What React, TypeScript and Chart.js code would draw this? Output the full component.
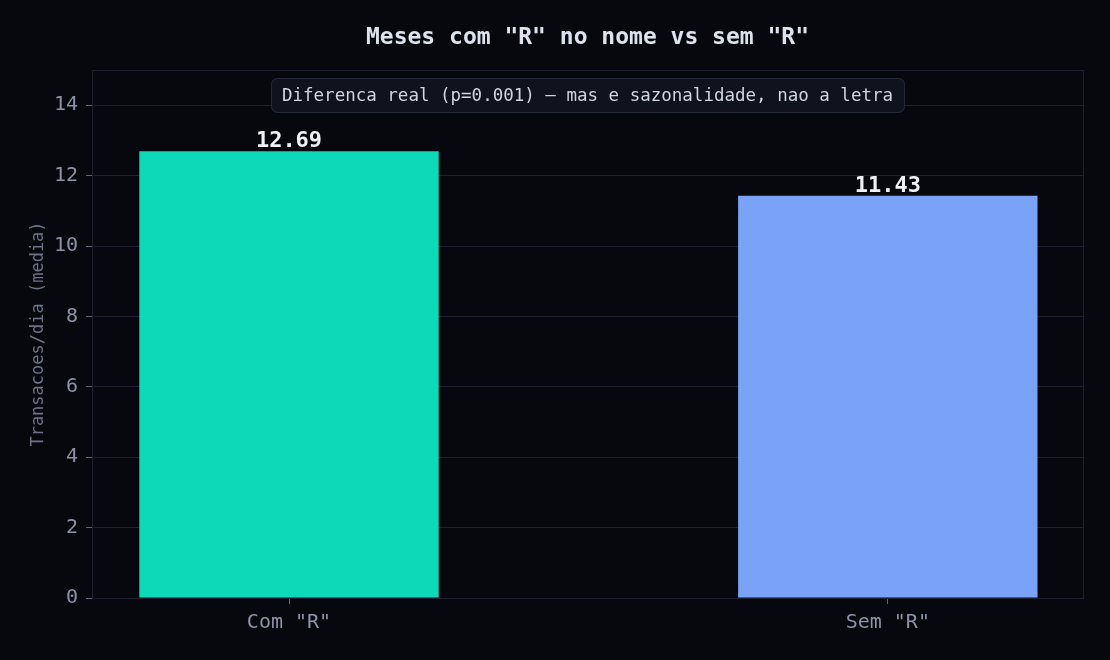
import React, { useEffect, useRef } from "react";
import { Chart, registerables } from "chart.js";

Chart.register(...registerables);

const TITLE = 'Meses com "R" no nome vs sem "R"';
const NOTE = "Diferenca real (p=0.001) — mas e sazonalidade, nao a letra";
const Y_TITLE = "Transacoes/dia (media)";
const categories = ['Com "R"', 'Sem "R"'];
const positions = [0, 1];
const values = [12.69, 11.43];
const barColors = ["#0dd9b9", "#7aa2f7"];
const yTickValues = [0, 2, 4, 6, 8, 10, 12, 14];

const FONT = "'DejaVu Sans Mono', 'Liberation Mono', monospace";
const BG = "#07080e";
const GRID = "#1c2030";
const TICK = "#8b93a8";

export default function App() {
  const ref = useRef<HTMLCanvasElement | null>(null);

  useEffect(() => {
    document.body.style.margin = "0";
    document.body.style.background = BG;
    const canvas = ref.current!;
    const decor = {
      id: "decor",
      beforeDraw(chart: any) {
        const { ctx, width, height } = chart;
        ctx.save();
        ctx.fillStyle = BG;
        ctx.fillRect(0, 0, width, height);
        ctx.restore();
      },
      afterDatasetsDraw(chart: any) {
        const { ctx, chartArea } = chart;
        const ca = chartArea;
        ctx.save();
        // frame
        ctx.strokeStyle = GRID;
        ctx.lineWidth = 1;
        ctx.strokeRect(ca.left + 0.5, ca.top + 0.5, ca.right - ca.left, ca.bottom - ca.top);
        // title
        const cx = (ca.left + ca.right) / 2;
        ctx.fillStyle = "#dde3ee";
        ctx.font = `bold 23px ${FONT}`;
        ctx.textAlign = "center";
        ctx.textBaseline = "middle";
        ctx.fillText(TITLE, cx, 38);
        // value labels
        const meta = chart.getDatasetMeta(0);
        ctx.font = `bold 22px ${FONT}`;
        ctx.fillStyle = "#eef1f7";
        ctx.textBaseline = "alphabetic";
        meta.data.forEach((bar: any, i: number) => {
          ctx.fillText(values[i].toFixed(2), bar.x, bar.y - 4);
        });
        // note box
        ctx.font = `17.5px ${FONT}`;
        const tw = ctx.measureText(NOTE).width;
        const bw = tw + 22;
        const bh = 34;
        const bx = cx - bw / 2;
        const by = 78;
        ctx.beginPath();
        ctx.roundRect(bx + 0.5, by + 0.5, bw, bh, 6);
        ctx.fillStyle = "#10131e";
        ctx.fill();
        ctx.strokeStyle = "#262b3b";
        ctx.lineWidth = 1;
        ctx.stroke();
        ctx.fillStyle = "#cfd5e1";
        ctx.textBaseline = "middle";
        ctx.textAlign = "center";
        ctx.fillText(NOTE, cx, by + bh / 2 + 1);
        ctx.restore();
      },
    };

    const chart = new Chart(canvas, {
      type: "bar",
      data: {
        datasets: [
          {
            data: positions.map((x, i) => ({ x, y: values[i] })),
            backgroundColor: barColors,
            borderWidth: 0,
            barPercentage: 0.5,
            categoryPercentage: 1.0,
          },
        ],
      },
      options: {
        animation: false,
        responsive: false,
        devicePixelRatio: 1,
        layout: { padding: { top: 70, right: 27, left: 0, bottom: 0 } },
        plugins: {
          legend: { display: false },
          tooltip: { enabled: false },
          title: { display: false },
        },
        scales: {
          x: {
            type: "linear",
            min: -0.329,
            max: 1.326,
            offset: false,
            afterBuildTicks(scale: any) {
              scale.ticks = positions.map((v) => ({ value: v }));
            },
            afterFit(scale: any) {
              scale.height = 62;
            },
            grid: {
              offset: false,
              drawOnChartArea: false,
              drawTicks: true,
              tickLength: 6,
              tickColor: "#5d6478",
              color: GRID,
            },
            border: { display: true, color: "#262b3b" },
            ticks: {
              color: TICK,
              font: { family: FONT, size: 20 },
              padding: 7,
              autoSkip: false,
              maxRotation: 0,
              callback: (v: any) => categories[Math.round(Number(v))] ?? "",
            },
          },
          y: {
            min: 0,
            max: 15,
            afterBuildTicks(scale: any) {
              scale.ticks = yTickValues.map((v) => ({ value: v }));
            },
            afterFit(scale: any) {
              scale.width = 92;
            },
            grid: {
              color: GRID,
              lineWidth: 1,
              drawTicks: true,
              tickLength: 6,
              tickColor: "#5d6478",
            },
            border: { display: true, color: GRID },
            ticks: {
              color: TICK,
              font: { family: FONT, size: 20 },
              padding: 8,
            },
            title: {
              display: true,
              text: Y_TITLE,
              color: "#6b7286",
              font: { family: FONT, size: 17 },
              padding: { top: 28, bottom: 0 },
            },
          },
        },
      },
      plugins: [decor],
    } as any);
    return () => chart.destroy();
  }, []);

  return (
    <div style={{ width: 1110, height: 660, background: BG }}>
      <canvas ref={ref} width={1110} height={660} style={{ display: "block" }} />
    </div>
  );
}
